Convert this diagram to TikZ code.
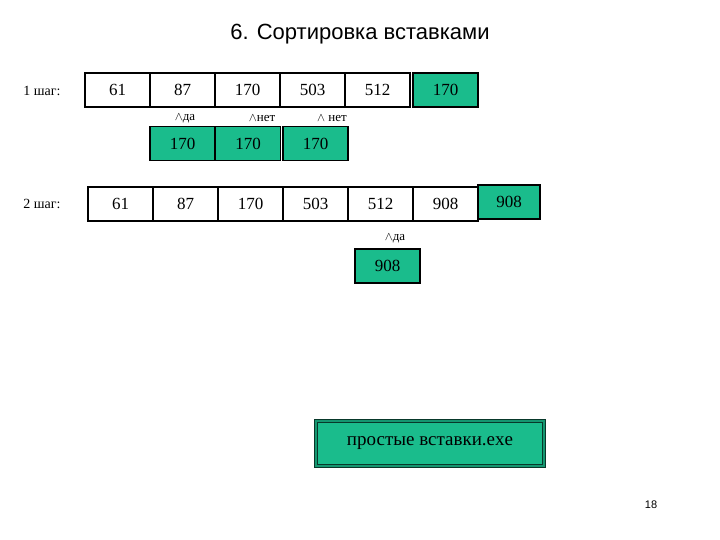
\documentclass[tikz,border=0pt]{standalone}
\usepackage{fontspec}
\setmainfont{Liberation Serif}
\newfontfamily\sansf{Liberation Sans}
\definecolor{gr}{HTML}{1ABC8C}
\begin{document}
\begin{tikzpicture}[x=1pt,y=-1pt,
  cell/.style={draw=black,line width=1.5pt,minimum width=#1,minimum height=34pt,inner sep=0pt,font=\fontsize{17}{17}\selectfont},
  cell/.default=65pt,
  gcell/.style={cell=#1,fill=gr},
  gcell/.default=65pt,
  lab/.style={font=\fontsize{14}{14}\selectfont,inner sep=0pt},
  cmp/.style={font=\fontsize{13}{13}\selectfont,inner sep=0pt}]
\useasboundingbox (0,0) rectangle (720,540);
\node[font=\sansf\fontsize{22}{22}\selectfont] (t) at (360,34) {6. Сортировка вставками};
\node[lab] (s1) at (42,91) {1 шаг:};
\node[lab] (s2) at (42,204) {2 шаг:};
% row 1
\foreach \v [count=\i] in {61,87,170,503,512}
  \node[cell] (a\i) at (85+32.5+65*\i-65,90) {\v};
\node[gcell] (a6) at (445.5,90) {170};
\node[cmp] (m1) at (185,118) {$\wedge$да};
\node[cmp] (m2) at (262,118) {$\wedge$нет};
\node[cmp] (m3) at (332,118) {$\wedge$ нет};
\node[gcell] (b1) at (182.5,143.5) {170};
\node[gcell] (b2) at (248,143.5) {170};
\node[gcell] (b3) at (315.5,143.5) {170};
% row 2
\foreach \v [count=\i] in {61,87,170,503,512,908}
  \node[cell] (c\i) at (88+32.5+65*\i-65,204) {\v};
\node[gcell=62pt] (c7) at (509,202) {908};
\node[cmp] (m4) at (395,238) {$\wedge$да};
\node[gcell] (d1) at (387.5,266) {908};
\node[draw=black!70!gr,double=gr!80!black,double distance=1.5pt,line width=1pt,fill=gr,minimum width=228pt,minimum height=45pt,font=\fontsize{19}{19}\selectfont] (btn) at (430,443.5) {простые вставки.exe};
\node[font=\sansf\fontsize{11}{11}\selectfont] (pg) at (651,505) {18};
\end{tikzpicture}
\end{document}
